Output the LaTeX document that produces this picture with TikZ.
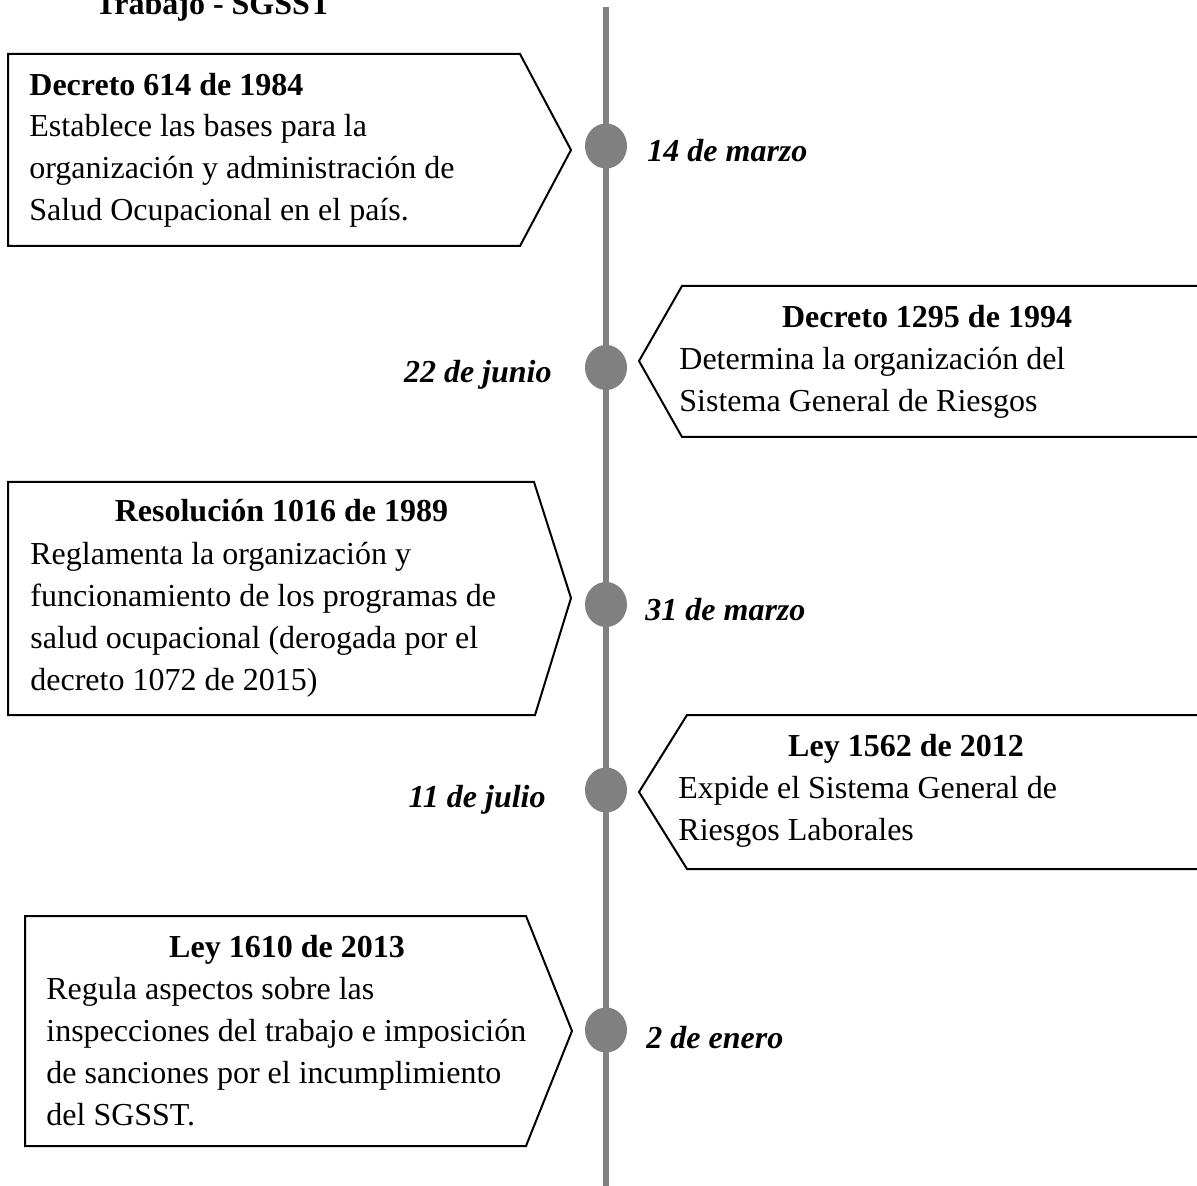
\documentclass[tikz,border=0pt]{standalone}
\usepackage{fontspec}
\setmainfont{Liberation Serif}
\usetikzlibrary{shapes.geometric}
\definecolor{tlgray}{HTML}{808080}
\tikzset{
  txt/.style={anchor=base west,inner sep=0pt,font=\fontsize{16}{21}\selectfont},
  ttl/.style={anchor=base,inner sep=0pt,font=\fontsize{16}{21}\selectfont\bfseries},
  datel/.style={anchor=base west,inner sep=0pt,font=\fontsize{16}{21}\selectfont\bfseries\itshape},
  dater/.style={anchor=base east,inner sep=0pt,font=\fontsize{16}{21}\selectfont\bfseries\itshape},
  dot/.style={ellipse,fill=tlgray,draw=none,minimum width=21pt,minimum height=22.5pt,inner sep=0pt},
  arrowbox/.style={draw=black,line width=1pt,line join=miter}
}
\begin{document}
\begin{tikzpicture}[x=0.5pt,y=-0.5pt]
\useasboundingbox (0,0) rectangle (1197,1186);
\clip (0,0) rectangle (1197,1186);
\fill[white] (0,0) rectangle (1197,1186);

% title (cut at top)
\node[anchor=base west,inner sep=0pt,font=\fontsize{16}{21}\selectfont\bfseries] (title) at (95,15) {Trabajo - SGSST};

% timeline
\coordinate (ltop) at (606,7);
\coordinate (lbot) at (606,1190);
\draw[tlgray,line width=3pt] (ltop) -- (lbot);
\node[dot] (d1) at (606,146) {};
\node[dot] (d2) at (606,367.5) {};
\node[dot] (d3) at (606,604.5) {};
\node[dot] (d4) at (606,790) {};
\node[dot] (d5) at (606,1030) {};

% box 1
\draw[arrowbox] (8,54) -- (520,54) -- (571,150) -- (520,246) -- (8,246) -- cycle;
\node[anchor=base west,inner sep=0pt,font=\fontsize{16}{21}\selectfont\bfseries] (b1t) at (29,96) {Decreto 614 de 1984};
\node[txt] (b1a) at (29,137) {Establece las bases para la};
\node[txt] (b1b) at (29,179) {organización y administración de};
\node[txt] (b1c) at (29,221) {Salud Ocupacional en el país.};
\node[datel] (t1) at (647,162) {14 de marzo};

% box 2
\draw[arrowbox] (1210,286) -- (682,286) -- (639,361) -- (682,437) -- (1210,437);
\node[ttl] (b2t) at (927,328) {Decreto 1295 de 1994};
\node[txt] (b2a) at (679,370) {Determina la organización del};
\node[txt] (b2b) at (679,412) {Sistema General de Riesgos};
\node[dater] (t2) at (552,383) {22 de junio};

% box 3
\draw[arrowbox] (8,482) -- (534,482) -- (571,598) -- (535,715) -- (8,715) -- cycle;
\node[ttl] (b3t) at (281.5,522) {Resolución 1016 de 1989};
\node[txt] (b3a) at (30,564) {Reglamenta la organización y};
\node[txt] (b3b) at (30,606) {funcionamiento de los programas de};
\node[txt] (b3c) at (30,648) {salud ocupacional (derogada por el};
\node[txt] (b3d) at (30,690) {decreto 1072 de 2015)};
\node[datel] (t3) at (645,620) {31 de marzo};

% box 4
\draw[arrowbox] (1210,715) -- (687,715) -- (639,792) -- (687,869) -- (1210,869);
\node[ttl] (b4t) at (906,756) {Ley 1562 de 2012};
\node[txt] (b4a) at (678,798) {Expide el Sistema General de};
\node[txt] (b4b) at (678,840) {Riesgos Laborales};
\node[dater] (t4) at (546,807) {11 de julio};

% box 5
\draw[arrowbox] (25,916) -- (526,916) -- (572,1031) -- (526,1146) -- (25,1146) -- cycle;
\node[ttl] (b5t) at (287,957) {Ley 1610 de 2013};
\node[txt] (b5a) at (46,999) {Regula aspectos sobre las};
\node[txt] (b5b) at (46,1041) {inspecciones del trabajo e imposición};
\node[txt] (b5c) at (46,1083) {de sanciones por el incumplimiento};
\node[txt] (b5d) at (46,1125) {del SGSST.};
\node[datel] (t5) at (646,1048) {2 de enero};
\end{tikzpicture}
\end{document}
